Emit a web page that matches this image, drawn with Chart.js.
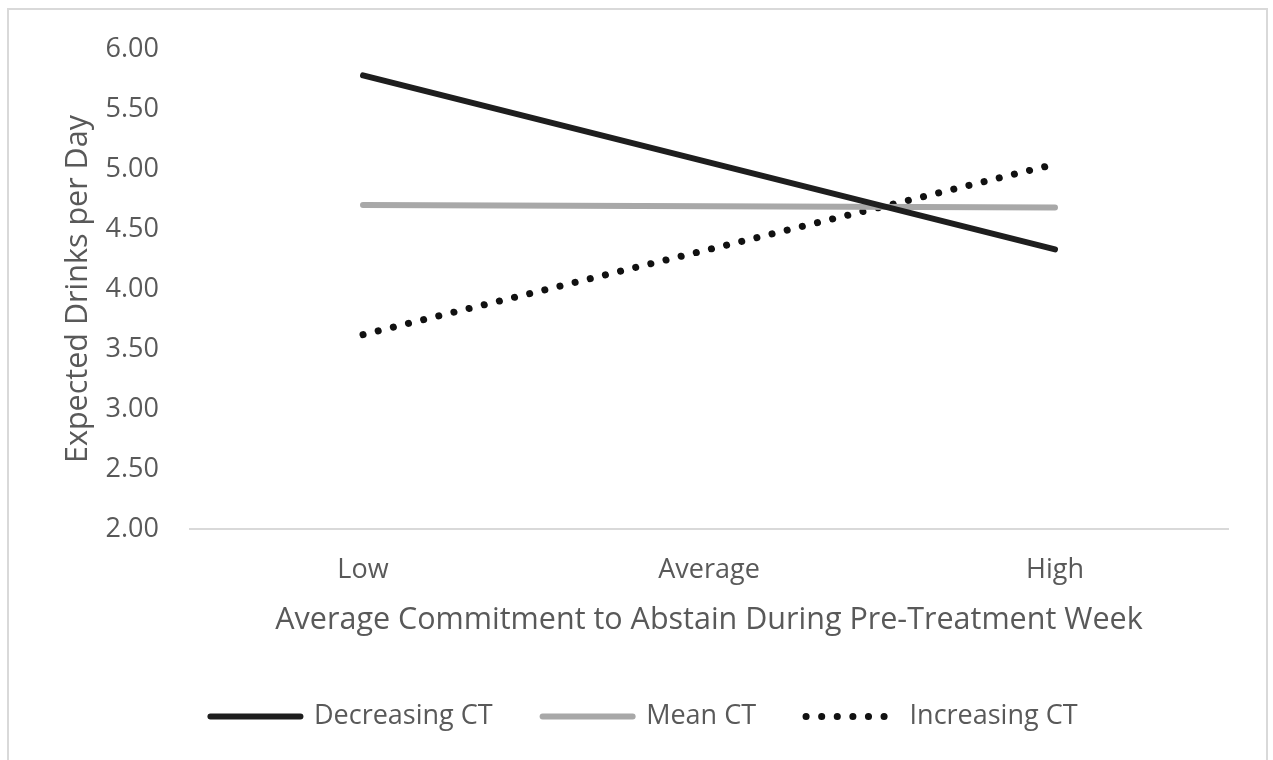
<!DOCTYPE html>
<html>
<head>
<meta charset="utf-8">
<script src="https://cdn.jsdelivr.net/npm/chart.js@4/dist/chart.umd.min.js"></script>
<style>
  html, body { margin: 0; padding: 0; background: #fff; }
  #wrap { position: relative; width: 1273px; height: 760px; overflow: hidden; }
  #frame { position: absolute; left: 7px; top: 8px; width: 1261px; height: 800px; border: 2px solid #d9d9d9; box-sizing: border-box; }
  canvas { position: absolute; left: 0; top: 0; }
</style>
</head>
<body>
<div id="wrap">
  <div id="frame"></div>
  <canvas id="chart" width="1273" height="760"></canvas>
</div>
<script>
const categories = ['Low', 'Average', 'High'];
const decreasingCT = [5.78, 5.055, 4.33];
const meanCT = [4.70, 4.69, 4.68];
const increasingCT = [3.62, 4.33, 5.04];
const yTicks = [2.0, 2.5, 3.0, 3.5, 4.0, 4.5, 5.0, 5.5, 6.0];

const textColor = '#595959';
const fontFamily = '"Open Sans", sans-serif';

const ctx = document.getElementById('chart').getContext('2d');
new Chart(ctx, {
    type: 'line',
    data: {
        labels: categories,
        datasets: [
            {
                label: 'Decreasing CT',
                data: decreasingCT,
                borderColor: '#1e1e1e',
                borderWidth: 6,
                borderCapStyle: 'round',
                pointRadius: 0
            },
            {
                label: 'Mean CT',
                data: meanCT,
                borderColor: '#a8a8a8',
                borderWidth: 6,
                borderCapStyle: 'round',
                pointRadius: 0
            },
            {
                label: 'Increasing CT',
                data: increasingCT,
                borderColor: '#111111',
                borderWidth: 7,
                borderCapStyle: 'round',
                borderDash: [0.1, 15.5],
                pointRadius: 0
            }
        ]
    },
    options: {
        responsive: false,
        animation: false,
        layout: { padding: { left: 60, right: 45, top: 49, bottom: 20 } },
        plugins: {
            tooltip: { enabled: false },
            legend: {
                position: 'bottom',
                labels: {
                    usePointStyle: true,
                    pointStyle: 'line',
                    pointStyleWidth: 90,
                    padding: 50,
                    color: textColor,
                    font: { family: fontFamily, size: 27 },
                    // point-style legend drops the dataset dash, so put it back
                    generateLabels: function (chart) {
                        const items = Chart.defaults.plugins.legend.labels.generateLabels(chart);
                        items.forEach(item => {
                            const ds = chart.data.datasets[item.datasetIndex];
                            item.lineDash = ds.borderDash || [];
                            item.lineCap = ds.borderCapStyle;
                            item.lineWidth = ds.borderWidth;
                            item.strokeStyle = ds.borderColor;
                        });
                        return items;
                    }
                }
            }
        },
        scales: {
            x: {
                offset: true,
                grid: { display: false },
                border: { display: true, color: '#d9d9d9', width: 2 },
                ticks: { color: textColor, font: { family: fontFamily, size: 27 }, padding: 17 },
                title: {
                    display: true,
                    text: 'Average Commitment to Abstain During Pre-Treatment Week',
                    color: textColor,
                    font: { family: fontFamily, size: 30.5 },
                    padding: { top: 6, bottom: 14 }
                },
                afterFit: function (scale) { scale.height = 124; }
            },
            y: {
                min: 2,
                max: 6,
                afterBuildTicks: function (scale) {
                    scale.ticks = yTicks.map(v => ({ value: v }));
                },
                grid: { display: false },
                border: { display: false },
                ticks: {
                    color: textColor,
                    font: { family: fontFamily, size: 27 },
                    padding: 23,
                    callback: v => Number(v).toFixed(2)
                },
                title: {
                    display: true,
                    text: 'Expected Drinks per Day',
                    color: textColor,
                    font: { family: fontFamily, size: 30.5 },
                    padding: { top: 0, bottom: 0 }
                },
                afterFit: function (scale) { scale.width = 130; }
            }
        }
    }
});
</script>
</body>
</html>
